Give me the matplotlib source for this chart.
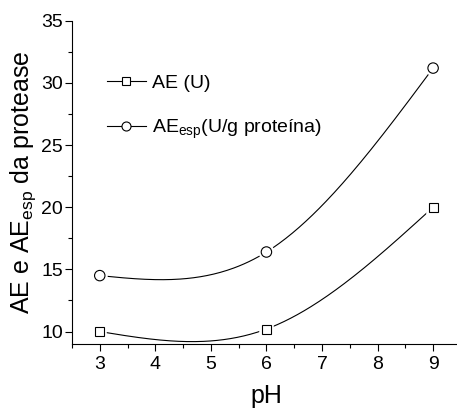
import numpy as np
import matplotlib
matplotlib.use("Agg")
import matplotlib.pyplot as plt
import matplotlib.patheffects as pe

ph = [3, 6, 9]
ae_u = [10.0, 10.2, 20.0]
ae_esp = [14.5, 16.4, 31.2]


def natural_spline(x, y, n=200):
    # natural cubic spline through the points (no scipy needed)
    x = np.asarray(x, float)
    y = np.asarray(y, float)
    k = len(x)
    h = np.diff(x)
    A = np.zeros((k, k))
    b = np.zeros(k)
    A[0, 0] = A[-1, -1] = 1
    for i in range(1, k - 1):
        A[i, i - 1] = h[i - 1]
        A[i, i] = 2 * (h[i - 1] + h[i])
        A[i, i + 1] = h[i]
        b[i] = 6 * ((y[i + 1] - y[i]) / h[i] - (y[i] - y[i - 1]) / h[i - 1])
    m = np.linalg.solve(A, b)
    xs = np.linspace(x[0], x[-1], n)
    idx = np.clip(np.searchsorted(x, xs) - 1, 0, k - 2)
    x0, x1, hh = x[idx], x[idx + 1], h[idx]
    ys = (m[idx] * (x1 - xs) ** 3 / (6 * hh) + m[idx + 1] * (xs - x0) ** 3 / (6 * hh)
          + (y[idx] / hh - m[idx] * hh / 6) * (x1 - xs)
          + (y[idx + 1] / hh - m[idx + 1] * hh / 6) * (xs - x0))
    return xs, ys


plt.rcParams['font.family'] = ['Liberation Sans', 'DejaVu Sans']
plt.rcParams['mathtext.fontset'] = 'custom'
plt.rcParams['mathtext.rm'] = 'Liberation Sans'

fig = plt.figure(figsize=(4.57, 4.09), dpi=100)
ax = fig.add_axes([0.1575, 0.159, 0.851, 0.79])

halo = [pe.Stroke(linewidth=4, foreground='white'), pe.Normal()]
for y, mk, lab in [(ae_u, 's', 'AE (U)'), (ae_esp, 'o', r'AE$_{\mathrm{esp}}$(U/g proteína)')]:
    xs, ys = natural_spline(ph, y)
    ax.plot(xs, ys, color='black', lw=0.8, zorder=2)
    ax.plot(ph, y, linestyle='none', marker=mk, ms=7.5 if mk == 'o' else 6.5,
            mfc='white', mec='black', mew=0.8, zorder=3, path_effects=halo)
    # legend proxy: line through marker
    ax.plot([], [], color='black', lw=0.8, marker=mk, ms=6.5 if mk == 'o' else 5.5,
            mfc='white', mec='black', mew=0.8, label=lab)

ax.set_xlim(2.5, 9.5)
ax.set_ylim(9, 35)
ax.set_xticks(range(3, 10))
ax.set_xticks(np.arange(2.5, 9.6, 0.5), minor=True)
ax.set_yticks(range(10, 36, 5))
ax.set_yticks(np.arange(10, 35.1, 2.5), minor=True)
ax.spines['top'].set_visible(False)
ax.spines['right'].set_visible(False)
ax.tick_params(which='both', direction='out', width=0.8, labelsize=14)
ax.tick_params(which='major', length=5)
ax.tick_params(which='minor', length=3)
ax.tick_params(axis='y', which='major', pad=1.5)

ax.set_xlabel('pH', fontsize=18, labelpad=8)
ax.set_ylabel(r'AE e AE$_{\mathrm{esp}}$ da protease', fontsize=18, labelpad=2)

ax.legend(loc='upper left', bbox_to_anchor=(0.045, 0.89), frameon=False, fontsize=14,
          handlelength=2.0, labelspacing=1.35, handletextpad=0.3)

fig.savefig('out.png', dpi=100)
